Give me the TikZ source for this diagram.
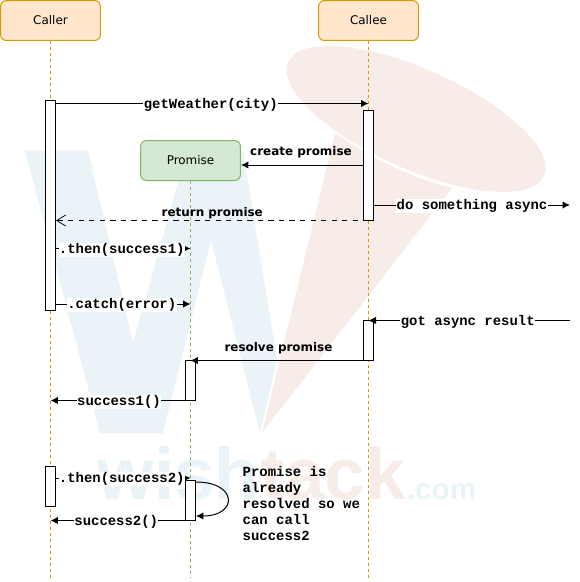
\documentclass[tikz,border=0pt]{standalone}
\usepackage{fontspec}
\setmainfont{DejaVu Sans}
\setmonofont{Liberation Mono}
\newfontfamily\wmfont{Liberation Sans}
\usetikzlibrary{arrows.meta}
\definecolor{wmblue}{HTML}{E9F3F8}
\definecolor{wmred}{HTML}{F8ECE8}
\definecolor{orangefill}{HTML}{FFE6CC}
\definecolor{orangeline}{HTML}{D79B00}
\definecolor{greenfill}{HTML}{D5E8D4}
\definecolor{greenline}{HTML}{82B366}
\tikzset{
  actor/.style={draw=orangeline,fill=orangefill,rounded corners=1.2mm,minimum width=2cm,minimum height=8mm,inner sep=0pt,line width=0.2mm,font=\fontsize{6.8}{8}\selectfont},
  promisebox/.style={actor,draw=greenline,fill=greenfill},
  lifeline/.style={draw=orangeline,line width=0.2mm,dash pattern=on 0.6mm off 0.6mm},
  promiseline/.style={lifeline,draw=greenline},
  bar/.style={draw,fill=white,line width=0.2mm,minimum width=2mm,inner sep=0pt},
  call/.style={line width=0.2mm,-{Latex[length=1.5mm,width=1.5mm]}},
  reply/.style={line width=0.2mm,dashed,-{Straight Barb[length=1.8mm,width=2.2mm,line width=0.15mm]}},
  code/.style={font=\fontsize{7.94}{9.07}\selectfont\ttfamily\bfseries,inner sep=0.2pt},
  codelabel/.style={code,fill=white,xshift=-0.3mm,yshift=-0.25mm},
  boldlabel/.style={font=\fontsize{6.8}{8}\selectfont\bfseries,inner sep=0pt},
  wmtext/.style={anchor=base west,inner sep=0pt,font=\fontsize{41.5}{42}\selectfont\wmfont\bfseries}
}
\begin{document}
\begin{tikzpicture}[x=0.02cm,y=-0.02cm]
  \useasboundingbox (0,0) rectangle (580,582);

  % watermark
  \fill[wmblue] (25,150.7) -- (88,150.7) -- (133,343) -- (187,150.7) -- (243,150.7) -- (277,360)
    -- (260,433) -- (211,240) -- (163,433) -- (100,433) -- cycle;
  \fill[wmred,rotate around={-24:(416,119)}] (416,119) ellipse (140 and 50);
  \fill[wmred] (262,433) -- (335,133) .. controls (360,150) and (400,175) .. (452,188) -- cycle;
  \node[wmtext,text=wmblue] (wmWish) at (97,499) {wish};
  \node[wmtext,text=wmred] (wmTack) at (wmWish.base east) {tack};
  \node[wmtext,text=wmblue,font=\fontsize{17}{18}\selectfont\wmfont\bfseries] (wmCom) at (wmTack.base east) {.com};

  \node[actor] (caller) at (50.5,20.5) {Caller};
  \node[actor] (callee) at (368.5,20.5) {Callee};
  \node[promisebox] (promise) at (190.5,160.5) {Promise};

  \coordinate (callerEnd) at (50.5,578);
  \coordinate (calleeEnd) at (368.5,578);
  \coordinate (promiseEnd) at (190.5,578);
  \coordinate (farRight) at (570,0);
  \draw[lifeline] (caller) -- (callerEnd);
  \draw[lifeline] (callee) -- (calleeEnd);
  \draw[promiseline] (promise) -- (promiseEnd);

  \node[bar,minimum height=42mm] (callerA) at (50.5,205.5) {};
  \node[bar,minimum height=8mm] (callerB) at (50.5,486.5) {};
  \node[bar,minimum height=22mm] (calleeA) at (368.5,165.5) {};
  \node[bar,minimum height=8mm] (calleeB) at (368.5,340.5) {};
  \node[bar,minimum height=8mm] (promiseA) at (190.5,380.5) {};
  \node[bar,minimum height=8mm] (promiseB) at (190.5,500.5) {};

  \coordinate (yWeather) at (0,103.5);
  \coordinate (yCreate) at (0,165);
  \coordinate (yAsync) at (0,205);
  \coordinate (yReturn) at (0,220.5);
  \coordinate (yThenA) at (0,248.5);
  \coordinate (yCatch) at (0,304);
  \coordinate (yGot) at (0,320.5);
  \coordinate (yResolve) at (0,360.5);
  \coordinate (ySuccessA) at (0,400.5);
  \coordinate (yThenB) at (0,478);
  \coordinate (yLoopA) at (0,482);
  \coordinate (yLoopB) at (0,516);
  \coordinate (ySuccessB) at (0,520.5);

  \draw[call] (callerA.east |- yWeather) -- node[codelabel] (lblWeather) {getWeather(city)} (calleeEnd |- yWeather);
  \draw[call] (calleeA.west |- yCreate) -- node[boldlabel,above=3.7pt,xshift=-0.2mm] (lblCreate) {create promise} (promise.east |- yCreate);
  \draw[call] (calleeA.east |- yAsync) -- node[codelabel,xshift=0.3mm] (lblAsync) {do something async} (farRight |- yAsync);
  \draw[reply] (calleeEnd |- yReturn) -- node[boldlabel,above=0.7pt] (lblReturn) {return promise} (callerA.east |- yReturn);
  \draw[call] (callerA.east |- yThenA) -- node[codelabel] (lblThenA) {.then(success1)} (promiseEnd |- yThenA);
  \draw[call] (callerA.east |- yCatch) -- node[codelabel] (lblCatch) {.catch(error)} (promiseEnd |- yCatch);
  \draw[call] (farRight |- yGot) -- node[codelabel] (lblGot) {got async result} (calleeEnd |- yGot);
  \draw[call] (calleeEnd |- yResolve) -- node[boldlabel,above=3.2pt,xshift=-0.2mm] (lblResolve) {resolve promise} (promiseEnd |- yResolve);
  \draw[call] (promiseEnd |- ySuccessA) -- node[codelabel] (lblSuccessA) {success1()} (callerEnd |- ySuccessA);
  \draw[call] (callerB.east |- yThenB) -- node[codelabel] (lblThenB) {.then(success2)} (promiseEnd |- yThenB);
  \draw[call] (promiseB.west |- ySuccessB) -- node[codelabel] (lblSuccessB) {success2()} (callerEnd |- ySuccessB);
  \draw[call] (promiseB.east |- yLoopA) .. controls (238,482) and (238,516) .. (promiseB.east |- yLoopB);

  \node[code,anchor=north west,align=left] (note) at (242,466) {Promise is\\already\\resolved so we\\can call\\success2};
\end{tikzpicture}
\end{document}
